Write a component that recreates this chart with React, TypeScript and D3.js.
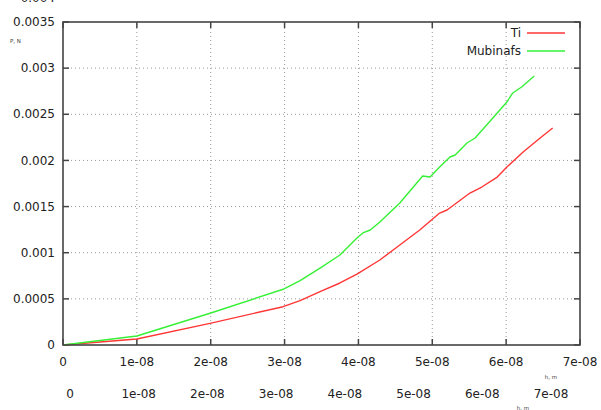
import * as d3 from 'd3';
import { useEffect, useRef } from 'react';

// Ti curve: h (m) and P (N)
const tiH = [0, 1.0e-8, 1.99e-8, 2.98e-8, 3.21e-8, 3.48e-8, 3.75e-8, 3.98e-8, 4.29e-8, 4.56e-8, 4.83e-8, 5.1e-8, 5.2e-8, 5.51e-8, 5.67e-8, 5.88e-8, 6.01e-8, 6.23e-8, 6.46e-8, 6.63e-8];
const tiP = [0, 0.000065, 0.000235, 0.000415, 0.00048, 0.000578, 0.000672, 0.000769, 0.000921, 0.001084, 0.001246, 0.00143, 0.001463, 0.001647, 0.001712, 0.00182, 0.001929, 0.002091, 0.002243, 0.002352];

// Mubinafs curve
const mubH = [0, 1.0e-8, 1.99e-8, 2.98e-8, 3.21e-8, 3.48e-8, 3.75e-8, 3.98e-8, 4.06e-8, 4.16e-8, 4.29e-8, 4.56e-8, 4.87e-8, 4.97e-8, 5.1e-8, 5.24e-8, 5.31e-8, 5.47e-8, 5.58e-8, 5.82e-8, 6.01e-8, 6.09e-8, 6.21e-8, 6.38e-8];
const mubP = [0, 0.0000975, 0.000344, 0.000604, 0.000697, 0.000834, 0.000975, 0.00116, 0.001214, 0.001246, 0.001333, 0.001539, 0.001831, 0.00182, 0.001929, 0.002037, 0.002059, 0.002189, 0.002243, 0.00246, 0.002633, 0.002731, 0.002796, 0.002915];

const xTicks = [0, 1e-8, 2e-8, 3e-8, 4e-8, 5e-8, 6e-8, 7e-8];
const yTicks = [0, 0.0005, 0.001, 0.0015, 0.002, 0.0025, 0.003, 0.0035];
const xTickLabels = ['0', '1e-08', '2e-08', '3e-08', '4e-08', '5e-08', '6e-08', '7e-08'];
const yTickLabels = ['0', '0.0005', '0.001', '0.0015', '0.002', '0.0025', '0.003', '0.0035'];

const seriesNames = ['Ti', 'Mubinafs'];
const seriesColors = ['#ff3636', '#36f036'];

export default function App() {
  const ref = useRef<SVGSVGElement>(null);

  const width = 601;
  const height = 410;
  const margin = { top: 22, right: 21, bottom: 65, left: 63 };

  useEffect(() => {
    const svg = d3.select(ref.current);
    svg.selectAll('*').remove();
    const font = 'DejaVu Sans, sans-serif';

    const x = d3.scaleLinear().domain([0, 7e-8]).range([margin.left, width - margin.right]);
    const y = d3.scaleLinear().domain([0, 0.0035]).range([height - margin.bottom, margin.top]);
    // second (offset) row of x labels
    const x2 = d3.scaleLinear().domain([0, 7e-8]).range([70, 551]);

    const x0 = margin.left, x1 = width - margin.right;
    const y0 = height - margin.bottom, y1 = margin.top;

    // grid
    const grid = svg.append('g').attr('stroke', '#999').attr('stroke-dasharray', '1,3').attr('stroke-width', 1);
    xTicks.slice(1, -1).forEach((t) => {
      grid.append('line').attr('x1', x(t)).attr('x2', x(t)).attr('y1', y0).attr('y2', y1);
    });
    yTicks.slice(1, -1).forEach((t) => {
      grid.append('line').attr('y1', y(t)).attr('y2', y(t)).attr('x1', x0).attr('x2', x1);
    });

    // ticks on all sides
    const tk = svg.append('g').attr('stroke', '#444').attr('stroke-width', 1.5);
    xTicks.forEach((t) => {
      tk.append('line').attr('x1', x(t)).attr('x2', x(t)).attr('y1', y0).attr('y2', y0 - 6);
      tk.append('line').attr('x1', x(t)).attr('x2', x(t)).attr('y1', y1).attr('y2', y1 + 6);
    });
    yTicks.forEach((t) => {
      tk.append('line').attr('y1', y(t)).attr('y2', y(t)).attr('x1', x0).attr('x2', x0 + 6);
      tk.append('line').attr('y1', y(t)).attr('y2', y(t)).attr('x1', x1).attr('x2', x1 - 6);
    });

    // curves
    const line = d3.line<[number, number]>().x((d) => x(d[0])).y((d) => y(d[1]));
    const series: [number, number][][] = [
      tiH.map((h, i) => [h, tiP[i]]),
      mubH.map((h, i) => [h, mubP[i]]),
    ];
    series.forEach((s, i) => {
      svg.append('path').attr('d', line(s)).attr('fill', 'none')
        .attr('stroke', seriesColors[i]).attr('stroke-width', 1.4).attr('stroke-linejoin', 'round');
    });

    // frame
    svg.append('rect').attr('x', x0).attr('y', y1).attr('width', x1 - x0).attr('height', y0 - y1)
      .attr('fill', 'none').attr('stroke', '#444').attr('stroke-width', 1.6);

    // tick labels
    const lab = svg.append('g').attr('font-family', font).attr('font-size', 12).attr('fill', '#222');
    yTicks.forEach((t, i) => {
      lab.append('text').attr('x', 55).attr('y', y(t)).attr('dy', '0.35em')
        .attr('text-anchor', 'end').text(yTickLabels[i]);
    });
    // label clipped at the very top edge, as in the source
    lab.append('text').attr('x', 55).attr('y', 1.5).attr('text-anchor', 'end').text('0.004');
    xTicks.forEach((t, i) => {
      lab.append('text').attr('x', x(t)).attr('y', 366).attr('text-anchor', 'middle').text(xTickLabels[i]);
      lab.append('text').attr('x', x2(t)).attr('y', 398).attr('text-anchor', 'middle').text(xTickLabels[i]);
    });

    // axis names (tiny)
    const small = svg.append('g').attr('font-family', font).attr('font-size', 5.5).attr('fill', '#444');
    small.append('text').attr('x', 10).attr('y', 43).text('P, N');
    small.append('text').attr('x', 551).attr('y', 379).attr('text-anchor', 'middle').text('h, m');
    small.append('text').attr('x', 523).attr('y', 410).attr('text-anchor', 'middle').text('h, m');

    // legend
    seriesNames.forEach((n, i) => {
      const ly = 33 + i * 18;
      lab.append('text').attr('x', 521).attr('y', ly).attr('dy', '0.35em').attr('text-anchor', 'end').text(n);
      svg.append('line').attr('x1', 527).attr('x2', 565).attr('y1', ly).attr('y2', ly)
        .attr('stroke', seriesColors[i]).attr('stroke-width', 1.4);
    });
  }, []);

  return (
    <svg ref={ref} width={width} height={height}
      style={{ position: 'absolute', left: 0, top: 0, background: '#fff' }} />
  );
}
